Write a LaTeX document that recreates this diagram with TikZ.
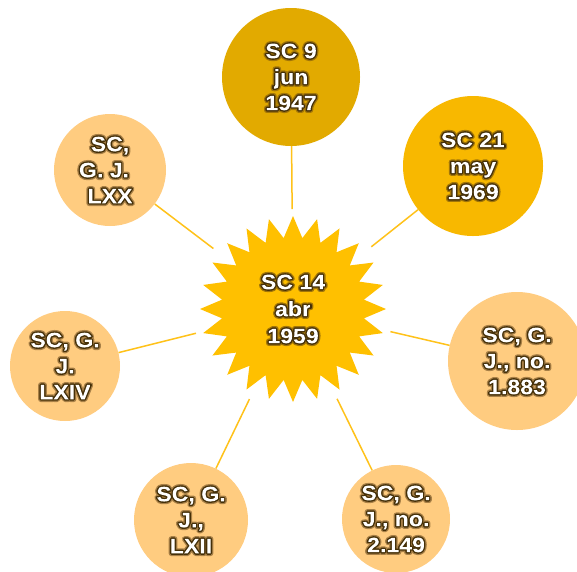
\documentclass[tikz,border=0pt]{standalone}
\usepackage{fontspec}
\setmainfont{Liberation Sans}[BoldFeatures={FakeStretch=1.1}]
\usetikzlibrary{shapes.geometric}

\definecolor{starc}{HTML}{FFC000}
\definecolor{goldA}{HTML}{E2AA00}
\definecolor{goldB}{HTML}{F8B800}
\definecolor{peach}{HTML}{FFCC80}
\definecolor{linkc}{HTML}{FFC21A}

% outer halo colour (PDF RGB), set per background
\def\haloout{0.63 0.46 0.03}

% White lettering with a two-tone brown halo: a wide soft stroke, then the
% glyphs filled and stroked in dark brown as a clipping path, and a white
% rule over the same box to fill the letter shapes.
\newcommand\gl[1]{%
  \setbox0\hbox{#1}%
  \special{pdf:bcontent}%
  \special{pdf:literal direct 1 Tr 5.4 w 1 j \haloout\space RG}%
  \copy0\kern-\wd0
  \special{pdf:literal direct 6 Tr 2.8 w 0.27 0.19 0.03 RG 0.27 0.19 0.03 rg}%
  \copy0
  \special{pdf:literal direct 0 Tr 1 1 1 rg}%
  \kern-\wd0
  \vrule height \dimexpr\ht0+3pt\relax depth \dimexpr\dp0+3pt\relax width \wd0
  \special{pdf:econtent}}

\tikzset{
  label text/.style={text=white, font=\bfseries\fontsize{21}{26}\selectfont, align=center},
  on peach/.style={execute at begin node={\def\haloout{0.66 0.50 0.28}}},
  burst/.style={star, star points=24, star point ratio=1.3, minimum size=186pt,
                inner sep=0pt, fill=starc, draw=none, label text},
  bubble/.style={circle, inner sep=0pt, draw=none, label text},
  link/.style={draw=linkc, line width=1.5pt, shorten <=100pt},
}

\begin{document}
\begin{tikzpicture}[x=1pt,y=1pt]
  \fill[white] (0,0) rectangle (577,-571);
  \useasboundingbox (0,0) rectangle (577,-571);

  % central burst
  \node[burst, font=\bfseries\fontsize{21}{27}\selectfont] (hub) at (293,-309)
    {\gl{SC 14}\\\gl{abr}\\\gl{1959}};

  % surrounding circles
  \node[bubble, fill=goldA, minimum size=138pt] (n1) at (291,-77)
    {\gl{SC 9}\\\gl{jun}\\\gl{1947}};
  \node[bubble, fill=goldB, minimum size=140pt] (n2) at (473,-166)
    {\gl{SC 21}\\\gl{may}\\\gl{1969}};
  \node[bubble, on peach, fill=peach, minimum size=138pt] (n3) at (517,-361)
    {\gl{SC, G.}\\\gl{J., no.}\\\gl{1.883}};
  \node[bubble, on peach, fill=peach, minimum size=108pt] (n4) at (396,-519)
    {\gl{SC, G.}\\\gl{J., no.}\\\gl{2.149}};
  \node[bubble, on peach, fill=peach, minimum size=114pt] (n5) at (191,-520)
    {\gl{SC, G.}\\\gl{J.,}\\\gl{LXII}};
  \node[bubble, on peach, fill=peach, minimum size=110pt] (n6) at (65,-366)
    {\gl{SC, G.}\\\gl{J.}\\\gl{LXIV}};
  \node[bubble, on peach, fill=peach, minimum size=112pt] (n7) at (110,-170)
    {\gl{SC,}\\\gl{G. J.}\kern12pt\\\gl{LXX}};

  % connectors from the burst to each circle
  \foreach \n in {n1,n2,n3,n4,n5,n6,n7}
    \draw[link] (hub.center) -- (\n);
\end{tikzpicture}
\end{document}
